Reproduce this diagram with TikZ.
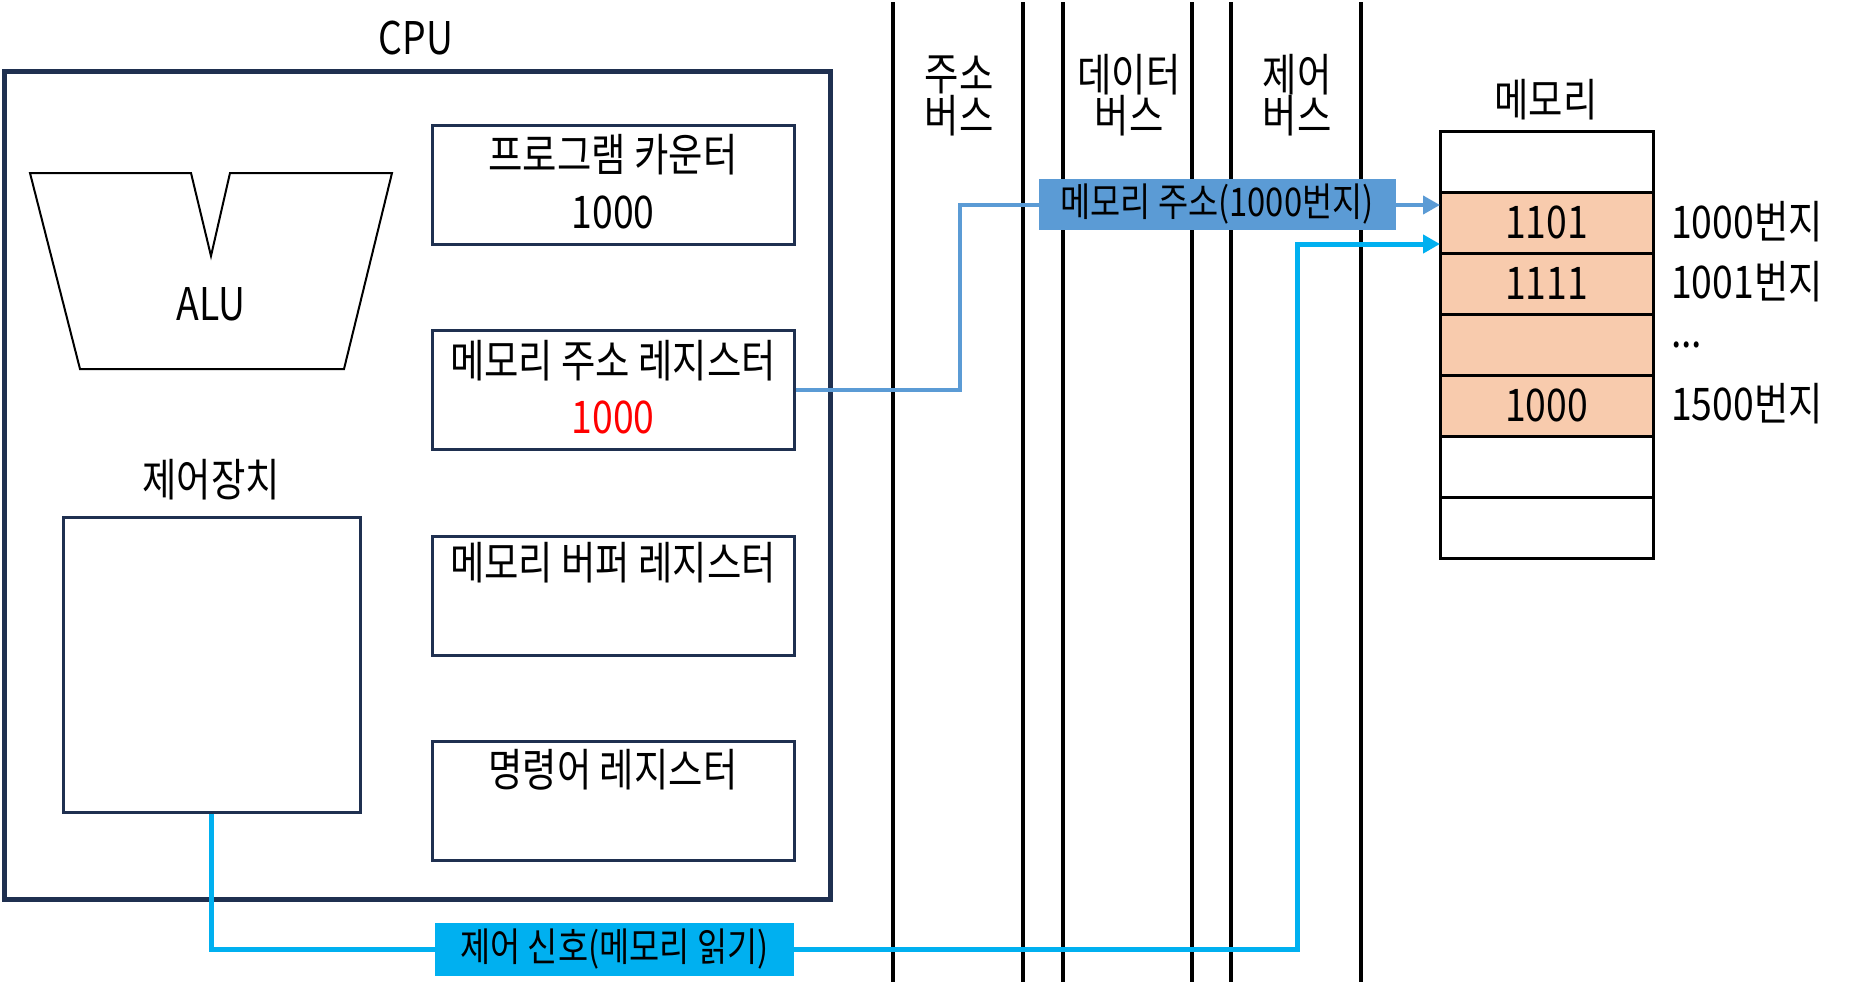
\documentclass[tikz,border=0pt]{standalone}
\usepackage{fontspec}
\setmainfont{Noto Sans CJK KR}[FakeStretch=0.83]
\usetikzlibrary{arrows.meta}
\definecolor{navy}{HTML}{1F3050}
\definecolor{peach}{HTML}{F8CBAD}
\definecolor{addrblue}{HTML}{5B9BD5}
\definecolor{ctrlcyan}{HTML}{00B0F0}
\tikzset{
  txt/.style={inner sep=0pt, font=\fontsize{45}{49}\selectfont},
  regbox/.style={draw=navy, line width=3pt, inner sep=0pt, minimum width=362, minimum height=119},
  cpubox/.style={draw=navy, line width=5pt, inner sep=0pt},
  membox/.style={draw=black, line width=3pt, inner sep=0pt, minimum width=213, minimum height=61},
  busline/.style={draw=black, line width=4pt},
  addrline/.style={draw=addrblue, line width=4pt},
  ctrlline/.style={draw=ctrlcyan, line width=5pt},
  tipA/.style={-{Triangle[length=17pt,width=18pt]}},
  labbox/.style={inner sep=0pt, font=\fontsize{39.5}{43}\selectfont}
}
\begin{document}
\begin{tikzpicture}[x=1pt,y=-1pt]
\useasboundingbox (0,0) rectangle (1867,989);

% CPU
\node[cpubox, minimum width=826, minimum height=828] (cpu) at (417,485) {};
\node[txt] (cpulab) at (416,38) {CPU};

% ALU
\draw[line width=2pt] (30,173) -- (191,173) -- (211,256) -- (230,173) -- (392,173) -- (344,369) -- (80,369) -- cycle;
\node[txt] (alu) at (211,304) {ALU};

% Control unit
\node[txt] (culab) at (211,480) {제어장치};
\node[regbox, minimum width=297, minimum height=295] (cu) at (211.5,664.5) {};

% Registers
\node[regbox] (pc) at (613,184.5) {};
\node[txt] at (613,155) {프로그램 카운터};
\node[txt] at (613,212) {1000};

\node[regbox] (mar) at (613,390) {};
\node[txt] at (613,361) {메모리 주소 레지스터};
\node[txt, text=red] at (613,417) {1000};

\node[regbox] (mbr) at (613,596) {};
\node[txt] at (613,563) {메모리 버퍼 레지스터};

\node[regbox] (ir) at (613,801) {};
\node[txt] at (613,770) {명령어 레지스터};

% Buses
\foreach \bx in {893,1023,1063,1192,1231,1361}
  \draw[busline] (\bx,2) -- (\bx,982);
\node[txt] (abus1) at (959,75) {주소};
\node[txt] (abus2) at (959,116) {버스};
\node[txt] (dbus1) at (1129,75) {데이터};
\node[txt] (dbus2) at (1129,116) {버스};
\node[txt] (cbus1) at (1297,75) {제어};
\node[txt] (cbus2) at (1297,116) {버스};

% Memory
\node[txt] (memlab) at (1546,100) {메모리};
\node[membox] (m1) at (1546.5,161.5) {};
\node[membox, fill=peach] (m2) at (1546.5,222.5) {};
\node[membox, fill=peach] (m3) at (1546.5,283.5) {};
\node[membox, fill=peach] (m4) at (1546.5,344.5) {};
\node[membox, fill=peach] (m5) at (1546.5,405.5) {};
\node[membox] (m6) at (1546.5,466.5) {};
\node[membox] (m7) at (1546.5,527.5) {};
\node[txt] at (m2) {1101};
\node[txt] at (m3) {1111};
\node[txt] at (m5) {1000};
\node[txt, anchor=west] at (1671,222) {1000번지};
\node[txt, anchor=west] at (1671,282) {1001번지};
\node[txt, anchor=west] at (1671,345) {...};
\node[txt, anchor=west] at (1671,404) {1500번지};

% Address connector
\coordinate (tA) at (960,205);
\coordinate (a1) at (1440,205);
\draw[addrline, tipA] (mar.east) -| (tA) -- (a1);
\node[labbox, fill=addrblue, minimum width=357, minimum height=51] (addr) at (1217,204) {메모리 주소(1000번지)};

% Control connector
\coordinate (tB) at (1297,949);
\coordinate (tC) at (1297,244);
\coordinate (a2) at (1440,244);
\draw[ctrlline, tipA] (cu.south) |- (tB) -- (tC) -- (a2);
\node[labbox, fill=ctrlcyan, minimum width=359, minimum height=53] (ctrl) at (614.5,949) {제어 신호(메모리 읽기)};
\end{tikzpicture}
\end{document}
